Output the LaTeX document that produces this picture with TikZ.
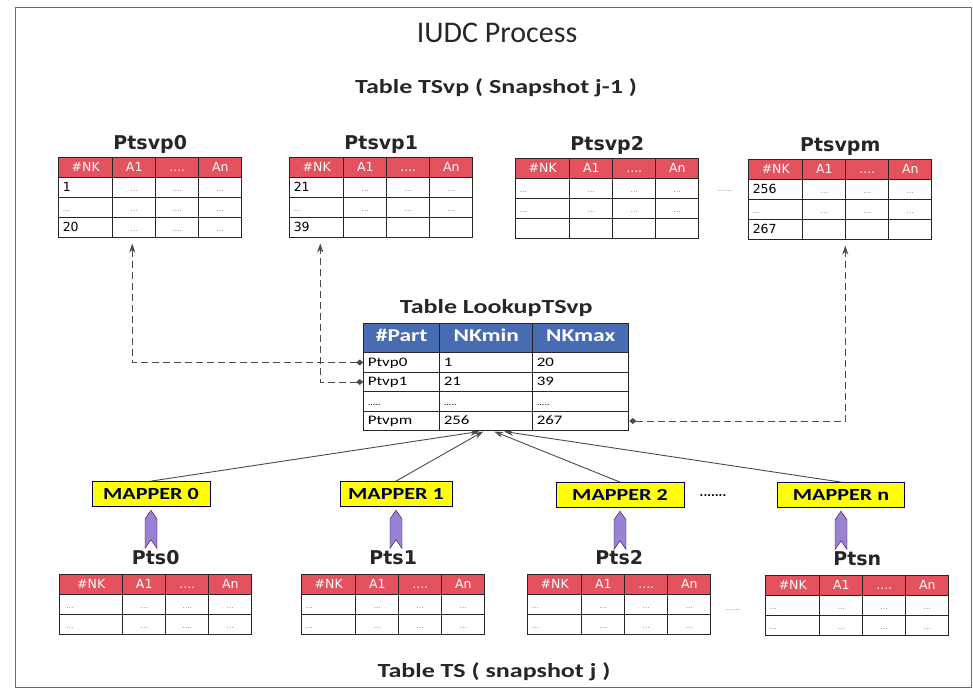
\documentclass[tikz,border=0pt]{standalone}
\usepackage{fontspec}
\setmainfont{DejaVu Sans}
\newfontfamily\calfont[FakeStretch=1.3]{Carlito}
\newfontfamily\ttlfont{Carlito}
\usepackage{tikz}
\usetikzlibrary{arrows.meta, matrix, positioning, shapes.symbols}
\definecolor{hdred}{RGB}{228,82,94}
\definecolor{hdblue}{RGB}{72,108,178}
\definecolor{mapyellow}{RGB}{255,255,0}
\definecolor{arrviolet}{RGB}{152,130,212}
\definecolor{lnkgray}{RGB}{75,75,75}
\definecolor{framecol}{RGB}{95,105,140}
\newcommand{\gdots}{{\color{gray}\fontsize{7.5}{8}\selectfont...}}
\newcommand{\gdotsq}{{\color{gray}\fontsize{7.5}{8}\selectfont....}}

\tikzset{
  cell/.style={draw=black!85, line width=1.1pt, fill=white, minimum height=20pt,
    minimum width=43pt, inner sep=0pt, text height=1.6ex, text depth=.3ex,
    font=\fontsize{12.5}{13}\selectfont},
  ptable/.style={matrix of nodes, nodes in empty cells, inner sep=0pt,
    column sep=-1.1pt, row sep=-1.1pt, nodes={cell},
    row 1/.style={nodes={fill=hdred, text=white}},
    column 1/.style={nodes={text width=46pt, align=left, minimum width=54pt}},
    row 1 column 1/.style={nodes={align=center}}},
  lcell/.style={draw=black!85, line width=1.1pt, fill=white, minimum height=19.5pt,
    inner xsep=4pt, inner ysep=0pt, text height=1.6ex, text depth=.3ex, align=left,
    font=\calfont\fontsize{13}{14}\selectfont},
  ltable/.style={matrix of nodes, inner sep=0pt, column sep=-1.1pt, row sep=-1.1pt,
    nodes={lcell},
    column 1/.style={nodes={text width=68pt}},
    column 2/.style={nodes={text width=85pt}},
    column 3/.style={nodes={text width=88pt}},
    row 1/.style={nodes={fill=hdblue, text=white, minimum height=29pt, align=center,
      font=\calfont\bfseries\fontsize{18}{20}\selectfont}}},
  tlabel/.style={inner sep=1pt, font=\bfseries\fontsize{19}{21}\selectfont, text=black!85},
  ttl/.style={inner sep=1pt, font=\calfont\bfseries\fontsize{20}{22}\selectfont, text=black!85},
  mapper/.style={draw=black!60!blue, line width=0.8pt, fill=mapyellow, minimum height=25pt,
    font=\calfont\bfseries\fontsize{17}{18}\selectfont, text=black!75!blue},
  fatarrow/.style={signal, signal to=north, signal from=south, signal pointer angle=70,
    draw=violet!55!black, fill=arrviolet, minimum width=12pt, minimum height=21pt, inner sep=0pt},
  dlink/.style={draw=lnkgray, line width=0.9pt, dash pattern=on 7pt off 4pt,
    {Diamond[length=7pt,width=6pt]}-{Stealth[length=9pt,width=6pt]}, shorten >=5pt},
  slink/.style={draw=lnkgray, line width=0.9pt, -{Stealth[length=9pt,width=6pt]}}
}

\begin{document}
\begin{tikzpicture}[x=1pt, y=-1pt]
\useasboundingbox (0,0) rectangle (973,690);
\draw[framecol, line width=1pt] (15,8) rectangle (971,687);

% titles
\node[font=\ttlfont\fontsize{30}{32}\selectfont, text=black!85] (title) at (497,33) {IUDC Process};
\node[ttl] (ttsvp) at (496,88) {Table TSvp ( Snapshot j-1 )};

% partitions of TSvp
\matrix (tsvp0) [ptable, anchor=north west] at (58,157) {
  \#NK & A1 & .... & An \\
  1 & \gdots & \gdotsq & \gdots \\
  \gdots & \gdots & \gdotsq & \gdots \\
  20 & \gdots & \gdotsq & \gdots \\
};
\matrix (tsvp1) [ptable, anchor=north west] at (289,157) {
  \#NK & A1 & .... & An \\
  21 & \gdots & \gdots & \gdots \\
  \gdots & \gdots & \gdots & \gdots \\
  39 & & & \\
};
\matrix (tsvp2) [ptable, anchor=north west] at (515,158) {
  \#NK & A1 & .... & An \\
  \gdots & \gdots & \gdots & \gdots \\
  \gdots & \gdots & \gdots & \gdots \\
  & & & \\
};
\matrix (tsvpm) [ptable, anchor=north west] at (748,159) {
  \#NK & A1 & .... & An \\
  256 & \gdots & \gdots & \gdots \\
  \gdots & \gdots & \gdots & \gdots \\
  267 & & & \\
};
\node[tlabel, above=2pt of tsvp0] (lsvp0) {Ptsvp0};
\node[tlabel, above=2pt of tsvp1] (lsvp1) {Ptsvp1};
\node[tlabel, above=2pt of tsvp2] (lsvp2) {Ptsvp2};
\node[tlabel, above=2pt of tsvpm] (lsvpm) {Ptsvpm};
\node (dtop) at (725,191) {\gdots\gdots};

% lookup table
\matrix (lk) [ltable, anchor=north west] at (363,323) {
  \#Part & NKmin & NKmax \\
  Ptvp0 & 1 & 20 \\
  Ptvp1 & 21 & 39 \\
  {\fontsize{8}{9}\selectfont .....} & {\fontsize{8}{9}\selectfont .....} & {\fontsize{8}{9}\selectfont .....} \\
  Ptvpm & 256 & 267 \\
};
\node[ttl, above=5pt of lk] (llk) {Table LookupTSvp};

\draw[dlink] (lk-2-1.west) -| ([xshift=-18pt]tsvp0.south);
\draw[dlink] (lk-3-1.west) -| ([xshift=-61pt]tsvp1.south);
\draw[dlink] (lk-5-3.east) -| ([xshift=5pt]tsvpm.south);

% mappers
\node[mapper, minimum width=118pt] (map0) at (151,494) {MAPPER 0};
\node[mapper, minimum width=112pt] (map1) at (396,494) {MAPPER 1};
\node[mapper, minimum width=128pt] (map2) at (620,495) {MAPPER 2};
\node[mapper, minimum width=127pt] (mapn) at (841,495) {MAPPER n};
\node[font=\bfseries] (dmap) at (713,496) {.......};

\draw[slink] (map0.north) -- ([xshift=-17pt]lk.south);
\draw[slink] (map1.north) -- ([xshift=-13pt]lk.south);
\draw[slink] (map2.north) -- ([xshift=-2pt]lk.south);
\draw[slink] (mapn.north) -- ([xshift=8pt]lk.south);

% partitions of TS
\matrix (pts0) [ptable, anchor=north west,
  column 1/.style={nodes={text width=50pt, align=left, minimum width=63pt}}] at (59,574) {
  \#NK & A1 & .... & An \\
  \gdots & \gdots & \gdotsq & \gdots \\
  \gdots & \gdots & \gdotsq & \gdots \\
};
\matrix (pts1) [ptable, anchor=north west] at (301,574) {
  \#NK & A1 & .... & An \\
  \gdots & \gdots & \gdots & \gdots \\
  \gdots & \gdots & \gdots & \gdots \\
};
\matrix (pts2) [ptable, anchor=north west] at (527,574) {
  \#NK & A1 & .... & An \\
  \gdots & \gdots & \gdots & \gdots \\
  \gdots & \gdots & \gdots & \gdots \\
};
\matrix (ptsn) [ptable, anchor=north west] at (765,575) {
  \#NK & A1 & .... & An \\
  \gdots & \gdots & \gdots & \gdots \\
  \gdots & \gdots & \gdots & \gdots \\
};
\node[tlabel, above=8pt of pts0] (lts0) {Pts0};
\node[tlabel, above=8pt of pts1] (lts1) {Pts1};
\node[tlabel, above=8pt of pts2] (lts2) {Pts2};
\node[tlabel, above=8pt of ptsn] (ltsn) {Ptsn};
\node (dbot) at (733,610) {\gdots\gdots};

\node[fatarrow, below=3pt of map0] (fa0) {};
\node[fatarrow, below=3pt of map1] (fa1) {};
\node[fatarrow, below=3pt of map2] (fa2) {};
\node[fatarrow, below=3pt of mapn] (fan) {};

\node[ttl] (tts) at (494,672) {Table TS ( snapshot j )};
\end{tikzpicture}
\end{document}
